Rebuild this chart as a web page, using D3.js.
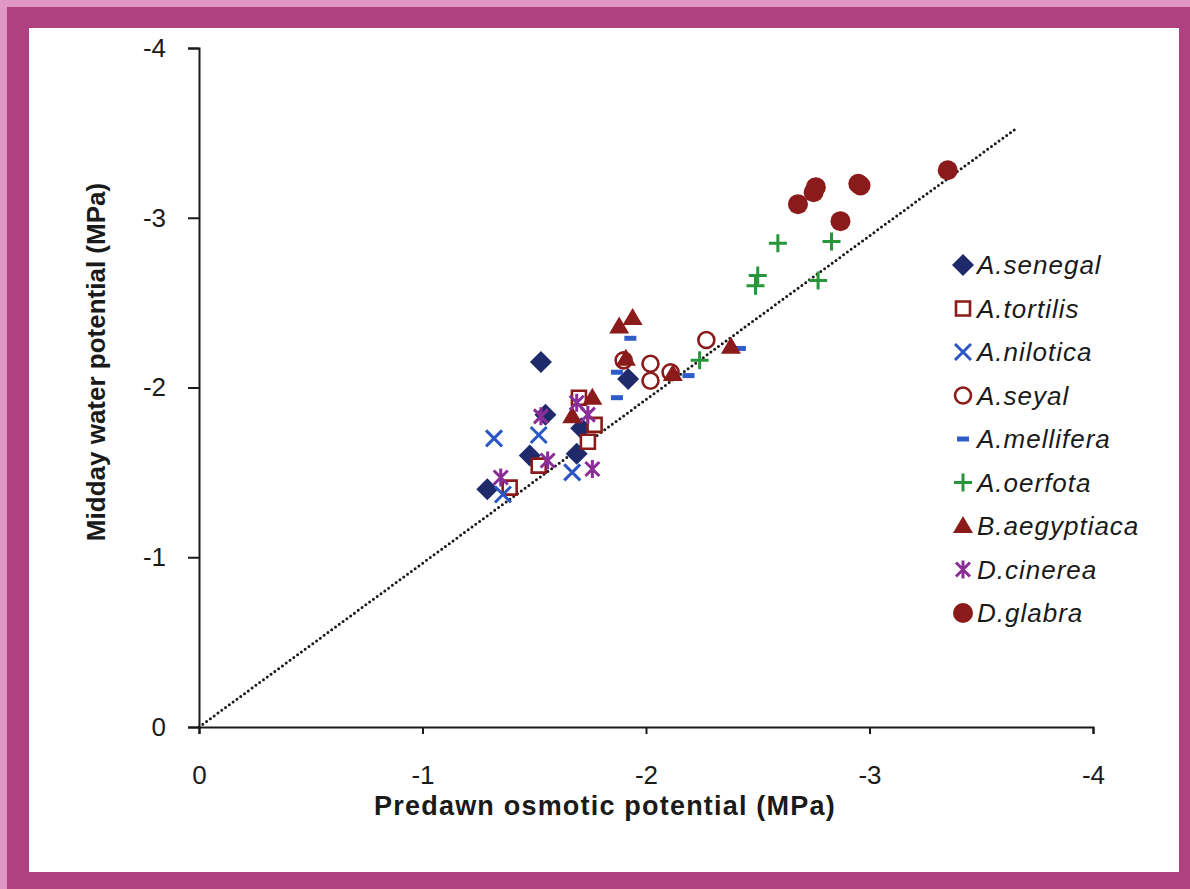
<!DOCTYPE html>
<html>
<head>
<meta charset="utf-8">
<script src="https://cdn.jsdelivr.net/npm/d3@7"></script>
<style>
  html, body { margin: 0; padding: 0; background: #e096c6; }
  svg { display: block; font-family: "Liberation Sans", Arial, sans-serif; }
</style>
</head>
<body>
<div id="chart"></div>
<script>
// Values: [predawn osmotic, midday water] in MPa
const speciesNames = ['A.senegal', 'A.tortilis', 'A.nilotica', 'A.seyal', 'A.mellifera',
  'A.oerfota', 'B.aegyptiaca', 'D.cinerea', 'D.glabra'];

const aSenegal = [[-1.53, -2.15], [-1.55, -1.84], [-1.48, -1.60], [-1.29, -1.40],
  [-1.69, -1.61], [-1.71, -1.76], [-1.92, -2.05]];
const aTortilis = [[-1.70, -1.94], [-1.77, -1.78], [-1.74, -1.68], [-1.52, -1.54], [-1.39, -1.41]];
const aNilotica = [[-1.32, -1.70], [-1.52, -1.72], [-1.67, -1.50], [-1.36, -1.37]];
const aSeyal = [[-2.27, -2.28], [-1.90, -2.16], [-2.02, -2.14], [-2.02, -2.04], [-2.11, -2.09]];
const aMellifera = [[-1.93, -2.29], [-1.87, -2.09], [-1.87, -1.94], [-2.19, -2.07], [-2.42, -2.23]];
const aOerfota = [[-2.59, -2.85], [-2.83, -2.86], [-2.50, -2.66], [-2.49, -2.60],
  [-2.77, -2.63], [-2.24, -2.16]];
const bAegyptiaca = [[-1.88, -2.36], [-1.94, -2.41], [-1.91, -2.17], [-2.38, -2.24],
  [-2.12, -2.08], [-1.76, -1.94], [-1.67, -1.83]];
const dCinerea = [[-1.53, -1.83], [-1.69, -1.91], [-1.74, -1.84], [-1.56, -1.57],
  [-1.76, -1.52], [-1.35, -1.47]];
const dGlabra = [[-2.68, -3.08], [-2.75, -3.15], [-2.76, -3.18], [-2.95, -3.20],
  [-2.96, -3.19], [-2.87, -2.98], [-3.35, -3.28]];

const seriesValues = [aSenegal, aTortilis, aNilotica, aSeyal, aMellifera,
  aOerfota, bAegyptiaca, dCinerea, dGlabra];

const axisTicks = [0, -1, -2, -3, -4];
const referenceLine = [[0, 0], [-3.65, -3.52]];

// marker look per species
const markerStyles = [
  { shape: 'diamond', fill: '#1f2a6b', stroke: 'none' },
  { shape: 'square', fill: '#fff', stroke: '#8b1a1a' },
  { shape: 'times', fill: 'none', stroke: '#2b57c4' },
  { shape: 'circle', fill: '#fff', stroke: '#8b1a1a' },
  { shape: 'dash', fill: '#2e5cc8', stroke: 'none' },
  { shape: 'plus', fill: 'none', stroke: '#27963a' },
  { shape: 'triangle', fill: '#8b1a1a', stroke: 'none' },
  { shape: 'asterisk', fill: 'none', stroke: '#8b2d98' },
  { shape: 'dot', fill: '#8b1a1a', stroke: 'none' }
];

const shapeTypes = {
  diamond: { draw(c) { c.moveTo(0, -11); c.lineTo(11, 0); c.lineTo(0, 11); c.lineTo(-11, 0); c.closePath(); } },
  square: { draw(c) { c.rect(-7, -7, 14, 14); } },
  times: { draw(c) { c.moveTo(-8, -8); c.lineTo(8, 8); c.moveTo(8, -8); c.lineTo(-8, 8); } },
  circle: { draw(c) { c.moveTo(8, 0); c.arc(0, 0, 8, 0, 2 * Math.PI); } },
  dash: { draw(c) { c.rect(-6, -2.5, 12, 5); } },
  plus: { draw(c) { c.moveTo(-9, 0); c.lineTo(9, 0); c.moveTo(0, -9); c.lineTo(0, 9); } },
  triangle: { draw(c) { c.moveTo(0, -10); c.lineTo(10, 7); c.lineTo(-10, 7); c.closePath(); } },
  asterisk: { draw(c) { c.moveTo(-7, -7); c.lineTo(7, 7); c.moveTo(7, -7); c.lineTo(-7, 7); c.moveTo(0, -9); c.lineTo(0, 9); } },
  dot: { draw(c) { c.moveTo(10, 0); c.arc(0, 0, 10, 0, 2 * Math.PI); } }
};

const width = 1190;
const height = 889;
const ink = '#1a1a1a';

const svg = d3.select('#chart')
  .append('svg')
  .attr('width', width)
  .attr('height', height);

// frame
svg.append('rect').attr('width', width).attr('height', height).attr('fill', '#e096c6');
svg.append('rect').attr('x', 7).attr('y', 7).attr('width', width - 7).attr('height', height - 7).attr('fill', '#b04181');
svg.append('rect').attr('x', 29).attr('y', 28).attr('width', 1150).attr('height', 844).attr('fill', '#fff');

const x = d3.scaleLinear().domain([0, -4]).range([199, 1093]);
const y = d3.scaleLinear().domain([0, -4]).range([727, 48]);

const xAxis = svg.append('g')
  .attr('transform', `translate(0,${y(0)})`)
  .call(d3.axisBottom(x).tickValues(axisTicks).tickFormat(d => String(d))
    .tickSize(7).tickPadding(32));

const yAxis = svg.append('g')
  .attr('transform', `translate(${x(0)},0)`)
  .call(d3.axisLeft(y).tickValues(axisTicks).tickFormat(d => String(d))
    .tickSize(11).tickPadding(22));

[xAxis, yAxis].forEach(g => {
  g.selectAll('path, line').attr('stroke', ink).attr('stroke-width', 2);
  g.selectAll('text').attr('fill', ink).attr('font-size', 26)
    .attr('font-family', '"Liberation Sans", Arial, sans-serif');
});

// dotted reference line
svg.append('path')
  .datum(referenceLine)
  .attr('d', d3.line().x(d => x(d[0])).y(d => y(d[1])))
  .attr('fill', 'none')
  .attr('stroke', ink)
  .attr('stroke-width', 3)
  .attr('stroke-linecap', 'round')
  .attr('stroke-dasharray', '0 4.7');

function styleMarker(sel, st) {
  sel.attr('d', d3.symbol().type(shapeTypes[st.shape]))
    .attr('fill', st.fill)
    .attr('stroke', st.stroke)
    .attr('stroke-width', st.shape === 'square' || st.shape === 'circle' ? 2.6 : 3);
}

seriesValues.forEach((values, i) => {
  svg.append('g')
    .selectAll('path')
    .data(values)
    .join('path')
    .attr('transform', d => `translate(${x(d[0])},${y(d[1])})`)
    .call(styleMarker, markerStyles[i]);
});

// legend
const legend = svg.append('g').attr('transform', 'translate(963,265)');
const item = legend.selectAll('g')
  .data(speciesNames)
  .join('g')
  .attr('transform', (d, i) => `translate(0,${i * 43.5})`);

item.append('path')
  .each(function(d, i) { d3.select(this).call(styleMarker, markerStyles[i]); });

item.append('text')
  .attr('x', 14)
  .attr('y', 9)
  .attr('font-size', 26)
  .attr('font-style', 'italic')
  .attr('letter-spacing', 1)
  .attr('fill', ink)
  .text(d => d);

// axis titles
svg.append('text')
  .attr('x', 605)
  .attr('y', 815)
  .attr('text-anchor', 'middle')
  .attr('font-size', 27)
  .attr('font-weight', 'bold')
  .attr('letter-spacing', 1.2)
  .attr('fill', ink)
  .text('Predawn osmotic potential (MPa)');

svg.append('text')
  .attr('transform', 'translate(105,362) rotate(-90)')
  .attr('text-anchor', 'middle')
  .attr('font-size', 26)
  .attr('font-weight', 'bold')
  .attr('fill', ink)
  .text('Midday water potential (MPa)');
</script>
</body>
</html>
